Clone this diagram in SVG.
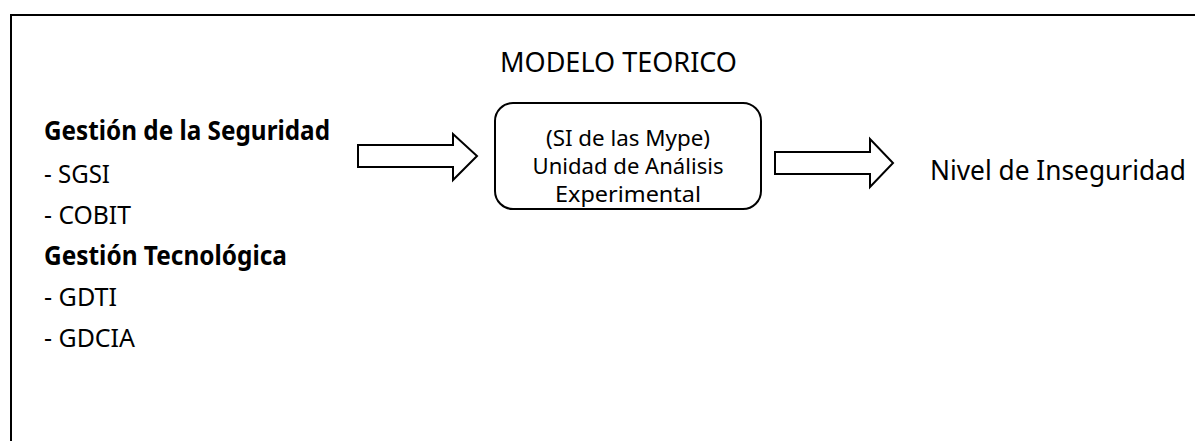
<svg xmlns="http://www.w3.org/2000/svg" width="1195" height="441" viewBox="0 0 1195 441">
  <style>
    .t { font-family: "Noto Sans", "Open Sans", "Liberation Sans", sans-serif; fill: #000; }
    .b { font-weight: bold; }
    .shape { fill: #fff; stroke: #000; stroke-width: 2; stroke-linejoin: miter; }
  </style>
  <rect x="0" y="0" width="1195" height="441" fill="#fff"/>
  <g id="frame">
    <rect x="11" y="15" width="1200" height="440" fill="none" stroke="#000" stroke-width="2"/>
  </g>
  <g id="title">
    <text class="t" x="500" y="72" font-size="27.5" textLength="237" lengthAdjust="spacingAndGlyphs">MODELO TEORICO</text>
  </g>
  <g id="inputs">
    <text class="t b" x="44" y="140" font-size="26" textLength="286" lengthAdjust="spacingAndGlyphs">Gestión de la Seguridad</text>
    <text class="t" x="44" y="183" font-size="26" textLength="66" lengthAdjust="spacingAndGlyphs">- SGSI</text>
    <text class="t" x="44" y="224" font-size="26" textLength="87" lengthAdjust="spacingAndGlyphs">- COBIT</text>
    <text class="t b" x="44" y="265" font-size="26" textLength="243" lengthAdjust="spacingAndGlyphs">Gestión Tecnológica</text>
    <text class="t" x="44" y="306" font-size="26" textLength="73" lengthAdjust="spacingAndGlyphs">- GDTI</text>
    <text class="t" x="44" y="347" font-size="26" textLength="91" lengthAdjust="spacingAndGlyphs">- GDCIA</text>
  </g>
  <g id="unit">
    <rect class="shape" x="495" y="103" width="266" height="106" rx="18" ry="18"/>
    <text class="t" x="628" y="146" font-size="22.5" text-anchor="middle" textLength="164" lengthAdjust="spacingAndGlyphs">(SI de las Mype)</text>
    <text class="t" x="628" y="174" font-size="22.5" text-anchor="middle" textLength="191" lengthAdjust="spacingAndGlyphs">Unidad de Análisis</text>
    <text class="t" x="628" y="202" font-size="22.5" text-anchor="middle" textLength="146" lengthAdjust="spacingAndGlyphs">Experimental</text>
  </g>
  <g id="output">
    <text class="t" x="930" y="180" font-size="28" textLength="256" lengthAdjust="spacingAndGlyphs">Nivel de Inseguridad</text>
  </g>
  <g id="connectors">
    <polygon class="shape" points="358,145 453,145 453,134 477,156 453,180 453,167 358,167"/>
    <polygon class="shape" points="775,152 870,152 870,139 893,163 870,187 870,174 775,174"/>
  </g>
</svg>
